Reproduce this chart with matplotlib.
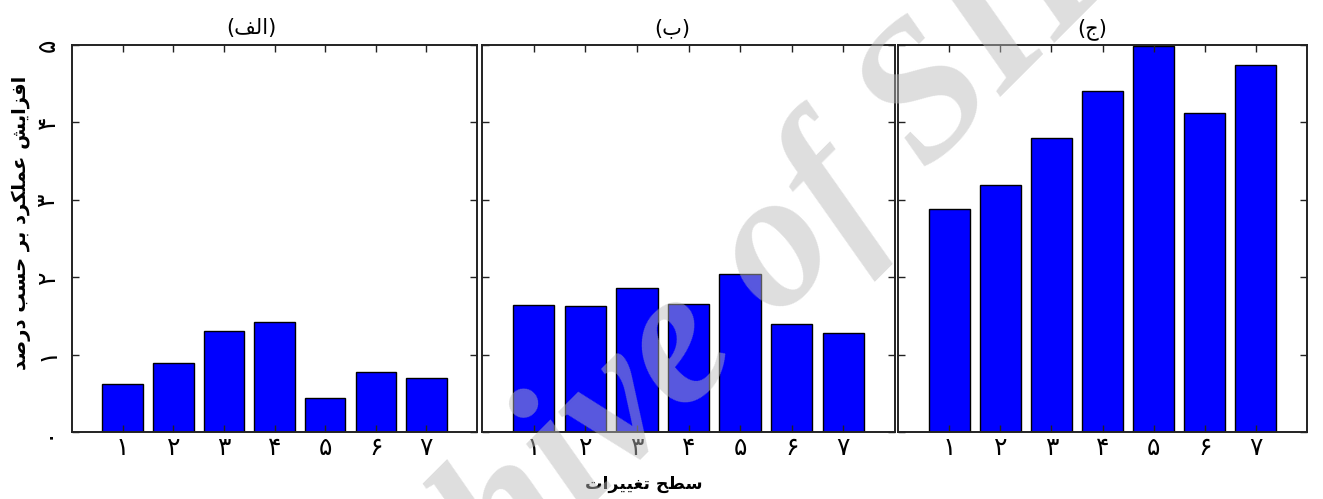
import matplotlib
matplotlib.use("Agg")
import matplotlib.pyplot as plt

# Persian letters -> (isolated, final, initial, medial) presentation forms
FORMS = {
    "ا": ("\ufe8d", "\ufe8e", None, None),
    "ب": ("\ufe8f", "\ufe90", "\ufe91", "\ufe92"),
    "ت": ("\ufe95", "\ufe96", "\ufe97", "\ufe98"),
    "ج": ("\ufe9d", "\ufe9e", "\ufe9f", "\ufea0"),
    "ح": ("\ufea1", "\ufea2", "\ufea3", "\ufea4"),
    "د": ("\ufea9", "\ufeaa", None, None),
    "ر": ("\ufead", "\ufeae", None, None),
    "ز": ("\ufeaf", "\ufeb0", None, None),
    "س": ("\ufeb1", "\ufeb2", "\ufeb3", "\ufeb4"),
    "ش": ("\ufeb5", "\ufeb6", "\ufeb7", "\ufeb8"),
    "ص": ("\ufeb9", "\ufeba", "\ufebb", "\ufebc"),
    "ط": ("\ufec1", "\ufec2", "\ufec3", "\ufec4"),
    "ع": ("\ufec9", "\ufeca", "\ufecb", "\ufecc"),
    "غ": ("\ufecd", "\ufece", "\ufecf", "\ufed0"),
    "ف": ("\ufed1", "\ufed2", "\ufed3", "\ufed4"),
    "ل": ("\ufedd", "\ufede", "\ufedf", "\ufee0"),
    "م": ("\ufee1", "\ufee2", "\ufee3", "\ufee4"),
    "ک": ("\ufb8e", "\ufb8f", "\ufb90", "\ufb91"),
    "ی": ("\ufbfc", "\ufbfd", "\ufbfe", "\ufbff"),
}


def fa(text):
    """Join Persian letters and put them in left-to-right drawing order."""
    out = []
    for i, ch in enumerate(text):
        if ch not in FORMS:
            out.append(ch)
            continue
        prev = text[i - 1] if i > 0 else ""
        nxt = text[i + 1] if i + 1 < len(text) else ""
        from_prev = prev in FORMS and FORMS[prev][2] is not None
        to_next = nxt in FORMS and FORMS[ch][2] is not None
        iso, fin, ini, med = FORMS[ch]
        if from_prev and to_next:
            out.append(med)
        elif from_prev:
            out.append(fin)
        elif to_next:
            out.append(ini)
        else:
            out.append(iso)
    return "".join(reversed(out))


levels = [1, 2, 3, 4, 5, 6, 7]
level_labels = ["۱", "۲", "۳", "۴", "۵", "۶", "۷"]
y_ticks = [0, 1, 2, 3, 4, 5]
y_labels = ["۰", "۱", "۲", "۳", "۴", "۵"]

gain_a = [0.62, 0.89, 1.31, 1.42, 0.44, 0.78, 0.70]
gain_b = [1.64, 1.63, 1.86, 1.66, 2.04, 1.40, 1.28]
gain_c = [2.88, 3.19, 3.80, 4.40, 4.99, 4.12, 4.74]

titles = ["(" + fa("الف") + ")", "(" + fa("ب") + ")", "(" + fa("ج") + ")"]
title_x = [0.444, 0.46, 0.474]

plt.rcParams["font.family"] = ["DejaVu Sans"]

fig = plt.figure(figsize=(13.23, 4.99), dpi=100)
W, H = 1323, 499
boxes = [(72, 477), (482, 895), (898, 1307)]
top, bottom = 45, 432

for k, (gains, (x0, x1)) in enumerate(zip([gain_a, gain_b, gain_c], boxes)):
    ax = fig.add_axes([x0 / W, (H - bottom) / H, (x1 - x0) / W, (bottom - top) / H])
    ax.bar(levels, gains, width=0.8, color="#0000ff", edgecolor="black", linewidth=1.0)
    ax.set_xlim(0, 8)
    ax.set_ylim(0, 5)
    ax.set_xticks(levels)
    ax.set_xticklabels(level_labels, fontsize=18)
    ax.set_yticks(y_ticks)
    ax.tick_params(direction="in", top=True, right=True, length=5, width=1,
                   color="#222222")
    ax.tick_params(axis="x", pad=3)
    if k == 0:
        ax.set_yticklabels(y_labels, fontsize=18, rotation=90, va="center")
        ax.tick_params(axis="y", pad=9)
        ax.set_ylabel(fa("افزایش عملکرد بر حسب درصد"), fontsize=14,
                      fontweight="bold", labelpad=3)
        ax.yaxis.label.set_y(0.54)
    else:
        ax.set_yticklabels([])
    for s in ax.spines.values():
        s.set_linewidth(1.4)
        s.set_color("#222222")
    ax.set_title(titles[k], x=title_x[k], fontsize=15, pad=8)

fig.text(644 / W, 1 - 484 / H, fa("سطح تغییرات"), ha="center", va="center",
         fontsize=12.5, fontweight="bold")

# diagonal watermark
fig.text(730 / W, 1 - 377 / H, "Archive of SID", ha="center", va="baseline",
         rotation=45, rotation_mode="anchor", fontsize=140,
         family="Liberation Serif", fontstyle="italic", fontweight="bold",
         color=(0.73, 0.73, 0.73), alpha=0.48, zorder=10)

fig.savefig("out.png", dpi=100)
